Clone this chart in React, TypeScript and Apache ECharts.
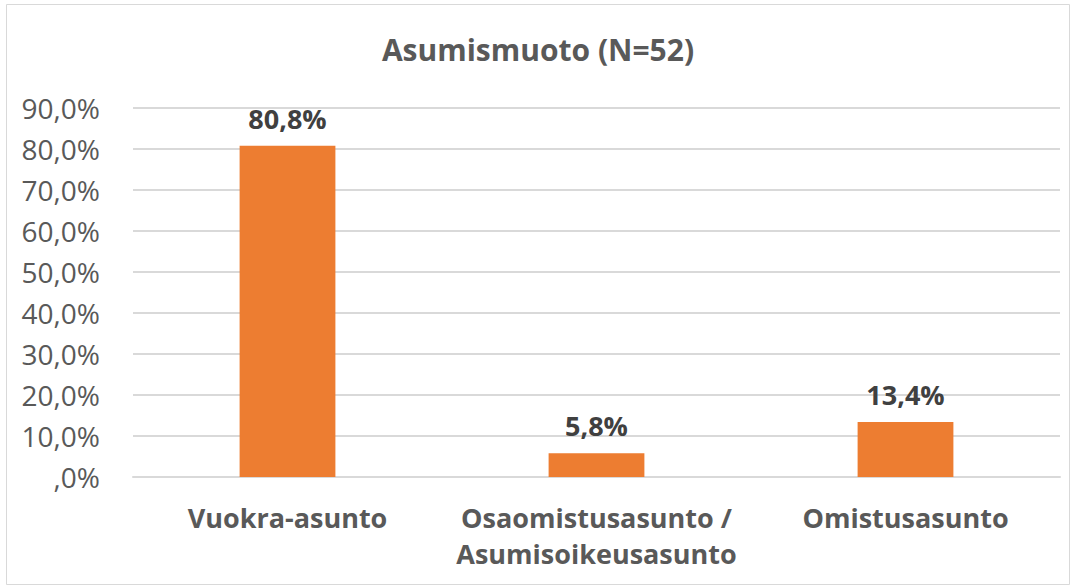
import React, { useEffect, useRef } from "react";
import * as echarts from "echarts";

const categories = ["Vuokra-asunto", "Osaomistusasunto /\nAsumisoikeusasunto", "Omistusasunto"];
const values = [80.8, 5.8, 13.4];
const titleText = "Asumismuoto (N=52)";

const fmt = (v: number) => {
  const s = v.toFixed(1).replace(".", ",");
  return (s.startsWith("0,") ? s.slice(1) : s) + "%";
};

export default function App() {
  const ref = useRef<HTMLDivElement>(null);
  useEffect(() => {
    const chart = echarts.init(ref.current!, null, { renderer: "svg" });
    const font = "'Open Sans', sans-serif";
    chart.setOption({
      animation: false,
      backgroundColor: "#ffffff",
      title: {
        text: titleText,
        left: "center",
        top: 29,
        textStyle: { fontFamily: font, fontSize: 30, fontWeight: "bold", color: "#595959" },
      },
      graphic: [
        {
          type: "rect",
          shape: { x: 6.5, y: 4.5, width: 1063, height: 580 },
          style: { fill: "none", stroke: "#d9d9d9", lineWidth: 1 },
          silent: true,
        },
      ],
      grid: { left: 133, right: 16, top: 108, bottom: 110, containLabel: false },
      xAxis: {
        type: "category",
        data: categories,
        axisLine: { show: true, lineStyle: { color: "#d9d9d9", width: 2 } },
        axisTick: { show: false },
        axisLabel: {
          fontFamily: font,
          fontSize: 27,
          fontWeight: "bold",
          color: "#595959",
          margin: 22,
          lineHeight: 36,
          interval: 0,
        },
      },
      yAxis: {
        type: "value",
        min: 0,
        max: 90,
        interval: 10,
        axisLine: { show: false },
        axisTick: { show: false },
        splitLine: { lineStyle: { color: "#d9d9d9", width: 2 } },
        axisLabel: {
          fontFamily: font,
          fontSize: 28,
          color: "#595959",
          margin: 33,
          formatter: (v: number) => fmt(v),
        },
      },
      series: [
        {
          type: "bar",
          data: values,
          barWidth: "31%",
          itemStyle: { color: "#ED7D31" },
          label: {
            show: true,
            position: "top",
            distance: 14,
            fontFamily: font,
            fontSize: 27,
            fontWeight: "bold",
            color: "#404040",
            formatter: (p: any) => fmt(p.value),
          },
        },
      ],
    });
    return () => chart.dispose();
  }, []);
  return (
    <div
      ref={ref}
      style={{ position: "fixed", left: 0, top: 0, width: 1076, height: 587 }}
    />
  );
}
